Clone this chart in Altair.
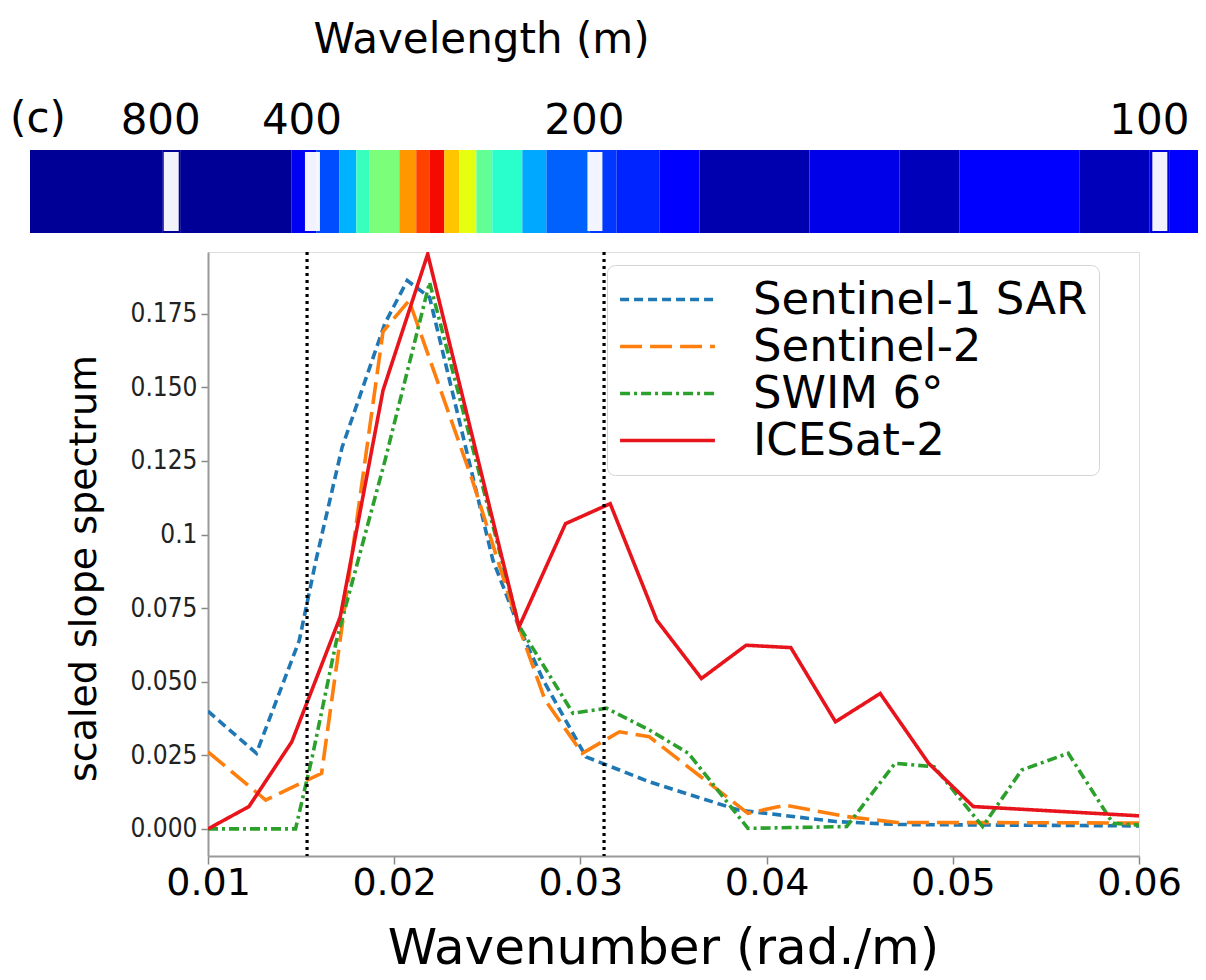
import math
import altair as alt
import pandas as pd

# ---------------- data ----------------
series_names = ["Sentinel-1 SAR", "Sentinel-2", "SWIM 6°", "ICESat-2"]
series_colors = ["#1f77b4", "#ff7f0e", "#2ca02c", "#e8141c"]
series_dashes = [[9, 5], [22, 8], [10, 4, 3, 4], [1, 0]]

sar_k = [0.0100, 0.0126, 0.0149, 0.0158, 0.0172, 0.0195, 0.0207, 0.0219, 0.0253, 0.0267,
         0.0280, 0.0303, 0.0337, 0.0385, 0.0437, 0.0470, 0.0607]
sar_v = [0.0400, 0.0257, 0.0640, 0.0913, 0.1296, 0.1717, 0.1863, 0.1806, 0.0913, 0.0686,
         0.0506, 0.0245, 0.0160, 0.0064, 0.0025, 0.0015, 0.0010]

s2_k = [0.0100, 0.0131, 0.0161, 0.0194, 0.0208, 0.0242, 0.0267, 0.0281, 0.0301, 0.0321,
        0.0337, 0.0390, 0.0410, 0.0443, 0.0470, 0.0607]
s2_v = [0.0262, 0.0098, 0.0189, 0.1690, 0.1795, 0.1184, 0.0686, 0.0438, 0.0257, 0.0330,
        0.0313, 0.0053, 0.0081, 0.0042, 0.0022, 0.0020]

swim_k = [0.0100, 0.0147, 0.0156, 0.0169, 0.0195, 0.0219, 0.0267, 0.0296, 0.0314, 0.0337,
          0.0358, 0.0390, 0.0443, 0.0469, 0.0490, 0.0516, 0.0537, 0.0562, 0.0586, 0.0607]
swim_v = [0.0000, 0.0000, 0.0245, 0.0640, 0.1250, 0.1857, 0.0690, 0.0393, 0.0410, 0.0336,
          0.0257, 0.0002, 0.0008, 0.0223, 0.0211, 0.0008, 0.0200, 0.0257, 0.0019, 0.0010]

ice_k = [0.0100, 0.0122, 0.0145, 0.0171, 0.0194, 0.0218, 0.0267, 0.0292, 0.0316, 0.0341,
         0.0365, 0.0389, 0.0413, 0.0437, 0.0461, 0.0487, 0.0511, 0.0607]
ice_v = [0.0000, 0.0076, 0.0296, 0.0720, 0.1490, 0.1953, 0.0686, 0.1037, 0.1105, 0.0709,
         0.0511, 0.0624, 0.0616, 0.0364, 0.0460, 0.0223, 0.0076, 0.0042]

marker_k = [0.01532, 0.03127]           # dotted vertical lines

y_ticks = [0.0, 0.025, 0.05, 0.075, 0.1, 0.125, 0.15, 0.175]
x_ticks = [0.01, 0.02, 0.03, 0.04, 0.05, 0.06]
wavelength_ticks = [800, 400, 200, 100]

# colour strip (jet image): bin edges in wavenumber and normalised intensity
strip_edges = [0.0, 0.00735, 0.00835, 0.01453, 0.01592, 0.01720, 0.01815, 0.01887, 0.02054,
               0.02148, 0.02221, 0.02304, 0.02388, 0.02482, 0.02571, 0.02738, 0.02872,
               0.03111, 0.03261, 0.03500, 0.03723, 0.04335, 0.04836, 0.05170, 0.05838,
               0.06227, 0.06339, 0.06540]
strip_vals = [0.02, 0.02, 0.02, 0.10, 0.20, 0.30, 0.42, 0.50, 0.75, 0.84, 0.90, 0.70, 0.63,
              0.47, 0.40, 0.29, 0.22, 0.18, 0.16, 0.11, 0.04, 0.09, 0.05, 0.11, 0.05, 0.08,
              0.11]

jet_stops = [0, 0.11, 0.125, 0.34, 0.35, 0.375, 0.64, 0.65, 0.66, 0.89, 0.91, 1]
jet_colors = ["#000080", "#0000ff", "#0000ff", "#00dbff", "#00e5f7", "#14ffe2",
              "#eeff08", "#f7f500", "#ffec00", "#ff1300", "#e80000", "#800000"]

# ---------------- tables ----------------
rows = []
for name, ks, vs in zip(series_names, [sar_k, s2_k, swim_k, ice_k], [sar_v, s2_v, swim_v, ice_v]):
    for k, v in zip(ks, vs):
        rows.append({"series": name, "k": k, "v": v})
df_lines = pd.DataFrame(rows)
df_mark = pd.DataFrame({"k": marker_k})
df_strip = pd.DataFrame({"k0": strip_edges[:-1], "k1": strip_edges[1:], "val": strip_vals})
df_stripes = pd.DataFrame({"k": [2 * math.pi / w for w in wavelength_ticks]})

FONT = "DejaVu Sans"
NARROW = "DejaVu Sans Condensed, Liberation Sans Narrow, Liberation Sans"
W, H = 931, 604

xs = alt.Scale(domain=[0.01, 0.06], nice=False, zero=False)
ys = alt.Scale(domain=[-0.0092, 0.196], nice=False, zero=False)
cs = alt.Scale(domain=series_names, range=series_colors)
ds = alt.Scale(domain=series_names, range=series_dashes)

legend = alt.Legend(
    orient="none", legendX=399, legendY=13, title=None,
    symbolType="stroke", symbolSize=9000, symbolStrokeWidth=3.5,
    labelFontSize=45, labelFont=FONT, labelColor="black", labelOffset=36,
    fillColor="white", strokeColor="#d4d4d4", cornerRadius=8, padding=11,
    clipHeight=47, rowPadding=0, labelLimit=600,
)

x_axis = alt.Axis(
    values=x_ticks, labelExpr="format(datum.value, '.2~f')",
    grid=False, tickSize=8, tickColor="#888", tickWidth=1.5,
    domainColor="#999", domainWidth=2,
    labelFont=FONT, labelFontSize=38, labelColor="black", labelPadding=30,
    labelBaseline="alphabetic", labelFlush=False, labelOverlap=False,
    title="Wavenumber (rad./m)", titleFont=FONT, titleFontSize=50,
    titleFontWeight="normal", titleColor="black", titleX=455, titleY=107,
    titleBaseline="alphabetic", titleAlign="center",
)
y_axis = alt.Axis(
    values=y_ticks,
    labelExpr="abs(datum.value - 0.1) < 1e-9 ? '0.1' : format(datum.value, '.3f')",
    grid=False, tickSize=7, tickColor="#888", tickWidth=1.5,
    domainColor="#999", domainWidth=2,
    labelFont=NARROW, labelFontSize=26, labelColor="#222",
    labelPadding=4, labelFlush=False, labelOverlap=False,
    title="scaled slope spectrum", titleFont=FONT, titleFontSize=38,
    titleFontWeight="normal", titleColor="black", titleX=-113, titleY=316,
    titleBaseline="alphabetic", titleAlign="center", titleAngle=270,
)

line_layers = []
for name in series_names:
    line_layers.append(
        alt.Chart(df_lines)
        .transform_filter(alt.datum.series == name)
        .mark_line(strokeWidth=3.6, clip=True)
        .encode(
            x=alt.X("k:Q", scale=xs, axis=x_axis),
            y=alt.Y("v:Q", scale=ys, axis=y_axis),
            color=alt.Color("series:N", scale=cs, legend=legend),
            strokeDash=alt.StrokeDash("series:N", scale=ds, legend=legend),
            order="k:Q",
        )
    )

vrules = alt.Chart(df_mark).mark_rule(color="black", strokeWidth=3.2, strokeDash=[3, 4]).encode(
    x=alt.X("k:Q", scale=xs)
)

main = alt.layer(*line_layers, vrules)

# ---------------- wavelength strip ----------------
sx = alt.Scale(domain=[0.0, 0.0654], range=[-178, 998], nice=False, zero=False)
top_axis = alt.Axis(
    orient="top", values=[2 * math.pi / w for w in wavelength_ticks],
    labelExpr="round(2 * PI / datum.value)",
    ticks=False, tickSize=0, domain=False, grid=False,
    labelFont=FONT, labelFontSize=42, labelColor="black", labelPadding=119,
    labelOffset=-11,
    labelBaseline="alphabetic", labelFlush=False, labelOverlap=False,
    title="Wavelength (m)", titleFont=FONT, titleFontSize=42, titleFontWeight="normal",
    titleColor="black", titleX=273, titleY=-200, titleBaseline="alphabetic",
    titleAlign="center",
)

strip = alt.Chart(df_strip).mark_rect().encode(
    x=alt.X("k0:Q", scale=sx, axis=top_axis),
    x2="k1:Q",
    y=alt.value(-102),
    y2=alt.value(-19),
    fill=alt.Fill("val:Q", scale=alt.Scale(domain=jet_stops, range=jet_colors,
                                           interpolate="rgb"), legend=None),
)
stripes = alt.Chart(df_stripes).mark_rule(color="white", strokeWidth=15, opacity=0.95).encode(
    x=alt.X("k:Q", scale=sx),
    y=alt.value(-100),
    y2=alt.value(-21),
)
strip_layer = alt.layer(strip, stripes)

chart = (
    alt.layer(main, strip_layer)
    .resolve_scale(x="independent")
    .resolve_axis(x="independent")
    .properties(
        width=W, height=H,
        autosize=alt.AutoSizeParams(type="none"),
        padding={"left": 200, "top": 244, "right": 59, "bottom": 122},
        title=alt.Title("(c)", anchor="start", frame="group", fontSize=42, font=FONT,
                        fontWeight="normal", color="black", dx=-198, dy=123, offset=0),
    )
    .configure_view(stroke="#999", strokeWidth=2)
    .configure(background="white")
)

chart.save("out.html", embed_options={"renderer": "svg", "actions": False})
